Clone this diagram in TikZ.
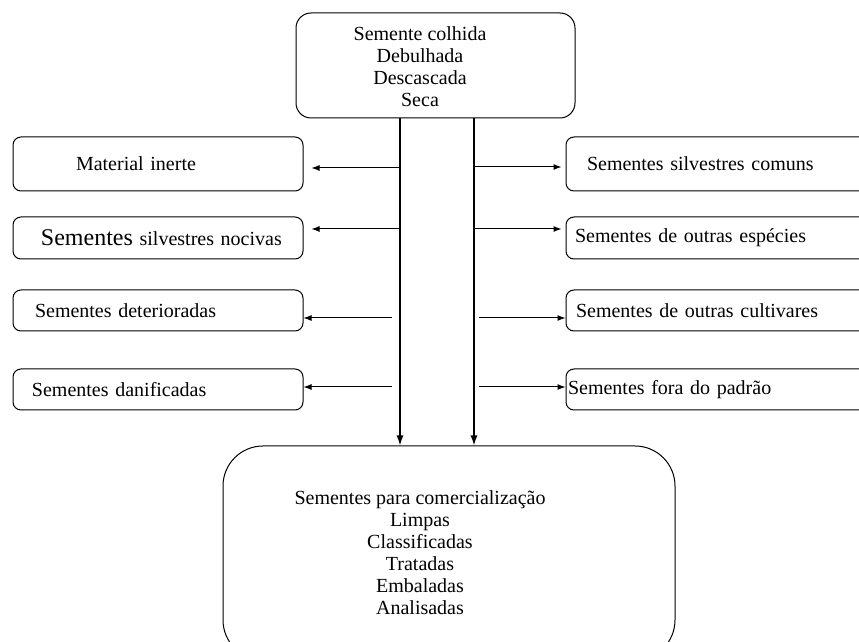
\documentclass[tikz,border=0pt]{standalone}
\usepackage{fontspec}
\setmainfont{Liberation Serif}
\usetikzlibrary{arrows.meta,calc}

\begin{document}
\begin{tikzpicture}[x=.5pt,y=-.5pt,
  font=\fontsize{10}{11}\selectfont,
  caixa/.style={draw,rounded corners=4pt,line width=.5pt,align=left,inner ysep=0pt},
  seta/.style={-{Latex[length=4pt,width=3pt]},line width=.5pt},
  linha/.style={-{Latex[length=5pt,width=3.5pt]},line width=.7pt}]

\useasboundingbox (0,0) rectangle (859,642);

\node[caixa,rounded corners=7.5pt,minimum width=139.5pt,minimum height=52.5pt] (topo) at (435.5,65.5) {};
\node[align=center] (topo-t) at (420,67) {Semente colhida\\Debulhada\\Descascada\\Seca};

\node[caixa,minimum height=27pt,text width=82pt,inner xsep=31.5pt] (mat) at (158,164) {Material inerte};
\node[caixa,minimum height=21pt,text width=135pt,inner xsep=5pt] (noc) at (158,238) {\hspace*{9pt}{\fontsize{12}{12}\selectfont Sementes} silvestres nocivas};
\node[caixa,minimum height=20.5pt,text width=123pt,inner xsep=11pt] (det) at (158,310.5) {Sementes deterioradas};
\node[caixa,minimum height=20.5pt,text width=126pt,inner xsep=9.5pt] (dan) at (158,389.5) {Sementes danificadas};

\node[caixa,minimum height=27pt,text width=136pt,inner xsep=10.5pt] (com) at (723,164) {Sementes silvestres comuns};
\node[caixa,minimum height=21pt,text width=148pt,inner xsep=4.5pt] (esp) at (723,238) {Sementes de outras espécies};
\node[caixa,minimum height=20.5pt,text width=147pt,inner xsep=5pt] (cult) at (723,310.5) {Sementes de outras cultivares};
\node[caixa,minimum height=20.5pt,text width=155pt,inner xsep=1pt] (fora) at (723,389.5) {Sementes fora do padrão};

\node[caixa,rounded corners=20pt,minimum width=226pt,minimum height=107pt] (base) at (449,553) {};
\node[align=center] (base-t) at (420,553) {Sementes para comercialização\\Limpas\\Classificadas\\Tratadas\\Embaladas\\Analisadas};

\coordinate (L) at (400,0);
\coordinate (R) at (474,0);
\draw[linha] (L |- topo.south) -- (L |- base.north);
\draw[linha] (R |- topo.south) -- (R |- base.north);

\coordinate (s1) at (400,168);
\coordinate (s2) at (400,229);
\coordinate (s3) at (392,318);
\coordinate (s4) at (392,387);
\coordinate (d1) at (474,167);
\coordinate (d2) at (474,229);
\coordinate (d3) at (479,318);
\coordinate (d4) at (479,387);

\draw[seta,shorten >=4pt] (s1) -- (mat.east |- s1);
\draw[seta,shorten >=4pt] (s2) -- (noc.east |- s2);
\draw[seta] (s3) -- (det.east |- s3);
\draw[seta] (s4) -- (dan.east |- s4);
\draw[seta,shorten >=2pt] (d1) -- (com.west |- d1);
\draw[seta,shorten >=2pt] (d2) -- (esp.west |- d2);
\draw[seta] (d3) -- (cult.west |- d3);
\draw[seta] (d4) -- (fora.west |- d4);

\end{tikzpicture}
\end{document}
